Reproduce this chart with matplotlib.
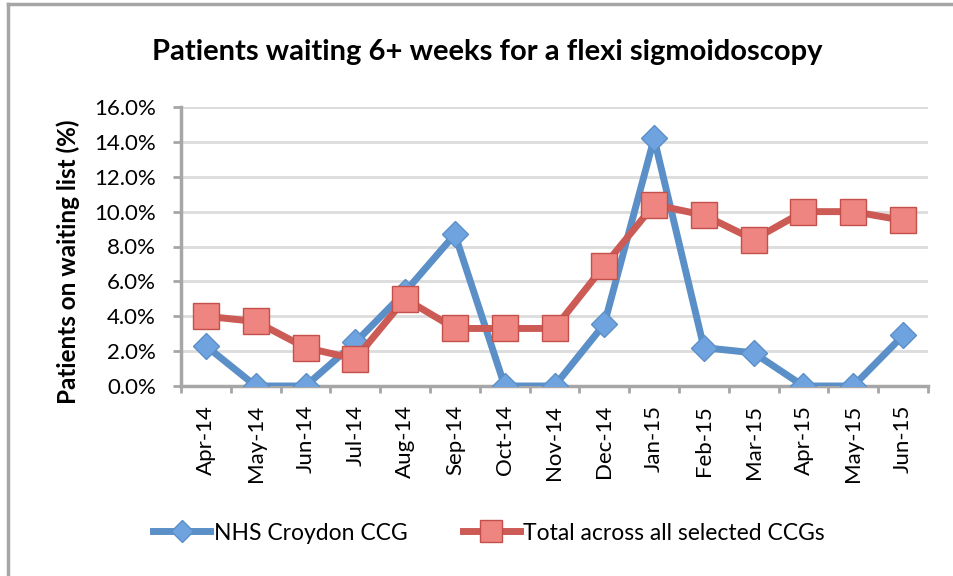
import matplotlib.pyplot as plt
from matplotlib.lines import Line2D
from matplotlib.ticker import FuncFormatter, MultipleLocator, FixedLocator
import numpy as np

plt.rcParams['font.family'] = ['Lato', 'DejaVu Sans']

# Datos
meses = ["Apr-14", "May-14", "Jun-14", "Jul-14", "Aug-14", "Sep-14", "Oct-14", "Nov-14",
         "Dec-14", "Jan-15", "Feb-15", "Mar-15", "Apr-15", "May-15", "Jun-15"]
croydon = [2.3, 0.0, 0.0, 2.5, 5.4, 8.7, 0.0, 0.0, 3.55, 14.2, 2.2, 1.9, 0.0, 0.0, 2.9]
total = [4.0, 3.7, 2.2, 1.55, 5.0, 3.3, 3.3, 3.3, 6.9, 10.4, 9.8, 8.4, 10.0, 10.0, 9.5]

azul = "#5b8fc7"
rojo = "#cc5a55"
gris = "#a6a6a6"

fig = plt.figure(figsize=(9.54, 5.76), dpi=100)
ax = fig.add_axes([181/954, 190/576, 747/954, 279/576])

x = np.arange(len(meses))
ax.plot(x, croydon, color=azul, linewidth=5, marker="D", markersize=13,
        markerfacecolor="#6fa3e0", markeredgecolor="#5b8fc7", markeredgewidth=1,
        label="NHS Croydon CCG", zorder=3)
ax.plot(x, total, color=rojo, linewidth=5, marker="s", markersize=18.5,
        markerfacecolor="#ee8580", markeredgecolor="#c4504b", markeredgewidth=1,
        label="Total across all selected CCGs", zorder=4)

ax.set_xlim(-0.5, len(meses) - 0.5)
ax.set_ylim(0, 16)
ax.yaxis.set_major_locator(MultipleLocator(2))
ax.yaxis.set_major_formatter(FuncFormatter(lambda v, p: f"{v:.1f}%"))
ax.set_xticks(x)
ax.set_xticklabels(meses, rotation=90)
ax.xaxis.set_minor_locator(FixedLocator(np.arange(-0.5, len(meses), 1)))
ax.tick_params(axis="x", which="major", length=0, pad=13.5, labelsize=16)
ax.tick_params(axis="x", which="minor", length=5, color=gris, width=2, direction="out")
ax.tick_params(axis="y", length=6, color=gris, width=2, labelsize=16, pad=12)

ax.grid(True, axis="y", color="#dcdcdc", linewidth=2)
ax.set_axisbelow(True)
for lado in ["top", "right"]:
    ax.spines[lado].set_visible(False)
for lado in ["left", "bottom"]:
    ax.spines[lado].set_color(gris)
    ax.spines[lado].set_linewidth(2.5)

fig.text(68/954, 1 - 262/576, "Patients on waiting list (%)", rotation=90,
         ha="center", va="center", fontsize=17.5, fontweight="bold")
fig.text(487/954, 1 - 52/576, "Patients waiting 6+ weeks for a flexi sigmoidoscopy",
         ha="center", va="center", fontsize=21, fontweight="bold")

fig.legend(loc="center", bbox_to_anchor=(489/954, 1 - 533/576), ncol=2, frameon=False,
           fontsize=16.5, handlelength=2.5, columnspacing=2.4, handletextpad=0.15,
           markerscale=0.85)

# Borde del gráfico
fig.add_artist(Line2D([8/954, 8/954], [0, 1 - 4/576], color=gris, linewidth=2.5,
                      transform=fig.transFigure))
fig.add_artist(Line2D([8/954, 1], [1 - 4/576, 1 - 4/576], color=gris, linewidth=2.5,
                      transform=fig.transFigure))

fig.savefig("out.png", dpi=100)
